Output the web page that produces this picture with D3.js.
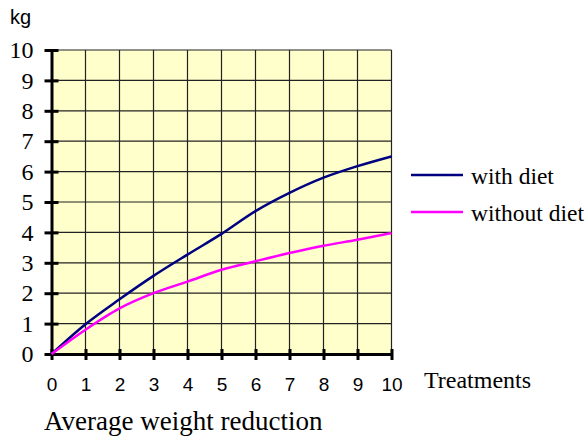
<!DOCTYPE html>
<html>
<head>
<meta charset="utf-8">
<script src="https://cdn.jsdelivr.net/npm/d3@7"></script>
<style>
  body { margin: 0; background: #fff; }
  svg { display: block; }
</style>
</head>
<body>
<div id="chart"></div>
<script>
// treatments 0..10
var treatments = [0, 1, 2, 3, 4, 5, 6, 7, 8, 9, 10];
var withDiet = [0, 0.98, 1.8, 2.57, 3.27, 3.95, 4.7, 5.3, 5.8, 6.18, 6.5];
var withoutDiet = [0, 0.8, 1.5, 2.0, 2.38, 2.77, 3.05, 3.32, 3.56, 3.76, 3.98];
var yTicks = [0, 1, 2, 3, 4, 5, 6, 7, 8, 9, 10];
var seriesNames = ['with diet', 'without diet'];
var seriesColors = ['#000080', '#FF00FF'];

var width = 588, height = 438;
var serif = '"Liberation Serif", "Times New Roman", serif';
var sans = '"Liberation Sans", Arial, sans-serif';

var svg = d3.select('#chart').append('svg')
    .attr('width', width)
    .attr('height', height);

var x = d3.scaleLinear().domain([0, 10]).range([51.5, 391.5]);
var y = d3.scaleLinear().domain([0, 10]).range([354, 50]);

// plot background
svg.append('rect')
    .attr('x', x(0)).attr('y', y(10))
    .attr('width', x(10) - x(0)).attr('height', y(0) - y(10))
    .attr('fill', '#FFFFCC');

// grid
svg.append('g').selectAll('line')
    .data(treatments.slice(1))
    .enter().append('line')
    .attr('x1', function(d) { return x(d); }).attr('x2', function(d) { return x(d); })
    .attr('y1', y(0)).attr('y2', y(10))
    .attr('stroke', '#222').attr('stroke-width', 1.2);
svg.append('g').selectAll('line')
    .data(yTicks.slice(1))
    .enter().append('line')
    .attr('x1', x(0)).attr('x2', x(10))
    .attr('y1', function(d) { return y(d); }).attr('y2', function(d) { return y(d); })
    .attr('stroke', '#222').attr('stroke-width', 1.2);

// axes
var yAxis = d3.axisLeft(y).tickValues(yTicks).tickSize(0).tickPadding(18)
    .tickFormat(d3.format('d'));
var gy = svg.append('g').attr('transform', 'translate(' + x(0) + ',0)').call(yAxis);
gy.select('.domain').attr('stroke', '#000').attr('stroke-width', 3);
gy.selectAll('.tick text')
    .style('font-family', serif)
    .style('font-size', '24px').attr('fill', '#000');
gy.selectAll('.tick').append('line')
    .attr('x1', -7).attr('x2', 7)
    .attr('stroke', '#000').attr('stroke-width', 3);

var xAxis = d3.axisBottom(x).tickValues(treatments).tickSize(0).tickPadding(24)
    .tickFormat(d3.format('d'));
var gx = svg.append('g').attr('transform', 'translate(0,' + y(0) + ')').call(xAxis);
gx.select('.domain').attr('stroke', '#000').attr('stroke-width', 3);
gx.selectAll('.tick text')
    .style('font-family', sans)
    .style('font-size', '19px').attr('fill', '#000');
gx.selectAll('.tick').append('line')
    .attr('y1', -5).attr('y2', 6)
    .attr('stroke', '#000').attr('stroke-width', 3);

// lines
var line = d3.line()
    .x(function(d, i) { return x(treatments[i]); })
    .y(function(d) { return y(d); })
    .curve(d3.curveMonotoneX);
[withDiet, withoutDiet].forEach(function(s, i) {
    svg.append('path')
        .datum(s)
        .attr('d', line)
        .attr('fill', 'none')
        .attr('stroke', seriesColors[i])
        .attr('stroke-width', 2.5);
});

// legend
var legend = svg.selectAll('.legend')
    .data(seriesNames)
    .enter().append('g')
    .attr('class', 'legend')
    .attr('transform', function(d, i) { return 'translate(411,' + (175 + i * 37) + ')'; });
legend.append('line')
    .attr('x1', 0).attr('x2', 52)
    .attr('stroke', function(d, i) { return seriesColors[i]; })
    .attr('stroke-width', 2.5);
legend.append('text')
    .attr('x', 60).attr('y', 9)
    .style('font-family', serif)
    .style('font-size', '23.5px')
    .text(function(d) { return d; });

// labels
svg.append('text')
    .attr('x', 10).attr('y', 24)
    .style('font-family', sans)
    .style('font-size', '20px')
    .text('kg');
svg.append('text')
    .attr('x', 424).attr('y', 388)
    .style('font-family', serif)
    .style('font-size', '24px')
    .text('Treatments');
svg.append('text')
    .attr('x', 44).attr('y', 430)
    .style('font-family', serif)
    .style('font-size', '27px')
    .text('Average weight reduction');
</script>
</body>
</html>
